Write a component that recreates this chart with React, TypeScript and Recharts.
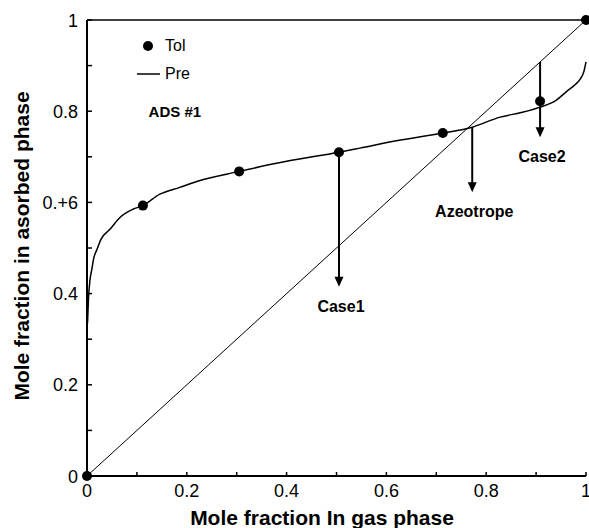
import React from 'react';
import {
  ComposedChart,
  XAxis,
  YAxis,
  Line,
  Scatter,
  ReferenceLine,
  ReferenceDot,
  Legend,
  Label,
} from 'recharts';

const FONT = '"Liberation Sans", Arial, Helvetica, sans-serif';

// Measured points (Tol)
const tolX = [0, 0.112, 0.305, 0.505, 0.713, 0.908, 1];
const tolY = [0, 0.593, 0.668, 0.71, 0.752, 0.822, 1];

// Predicted isotherm (Pre)
const preX = [
  0.001, 0.003, 0.006, 0.01, 0.013, 0.02, 0.028, 0.046, 0.066, 0.092, 0.112,
  0.146, 0.186, 0.22, 0.305, 0.4, 0.505, 0.547, 0.62, 0.713, 0.772, 0.828,
  0.87, 0.908, 0.94, 0.962, 0.978, 0.988, 0.996, 1.0,
];
const preY = [
  0.335, 0.39, 0.43, 0.455, 0.475, 0.497, 0.519, 0.541, 0.567, 0.585, 0.593,
  0.618, 0.633, 0.646, 0.668, 0.69, 0.71, 0.719, 0.735, 0.752, 0.765, 0.787,
  0.797, 0.809, 0.824, 0.844, 0.858, 0.87, 0.888, 0.908,
];

// Axis ticks and their labels
const tickValues = [0, 0.1, 0.2, 0.3, 0.4, 0.5, 0.6, 0.7, 0.8, 0.9, 1];
const xLabels = ['0', '', '0.2', '', '0.4', '', '0.6', '', '0.8', '', '1'];
const yLabels = ['0', '', '0.2', '', '0.4', '', '0.+6', '', '0.8', '', '1'];

// Vertical arrows: name, x position, start and end heights
const arrowNames = ['Case1', 'Azeotrope', 'Case2'];
const arrowX = [0.505, 0.772, 0.908];
const arrowFrom = [0.71, 0.765, 0.908];
const arrowTo = [0.415, 0.622, 0.743];

const tolData = tolX.map((x, i) => ({ x, y: tolY[i] }));
const preData = preX.map((x, i) => ({ x, y: preY[i] }));

const XTick = (props: any) => {
  const { x, y, index } = props;
  const label = xLabels[index];
  return (
    <g>
      <line x1={x} y1={y} x2={x} y2={y - 4} stroke="#000" strokeWidth={1.5} />
      {label ? (
        <text x={x} y={y + 21} textAnchor="middle" fontFamily={FONT} fontSize={18} fill="#000">
          {label}
        </text>
      ) : null}
    </g>
  );
};

const YTick = (props: any) => {
  const { x, y, index } = props;
  const label = yLabels[index];
  return (
    <g>
      <line x1={x} y1={y} x2={x + 5} y2={y} stroke="#000" strokeWidth={1.5} />
      {label ? (
        <text x={x - 9} y={y + 6.5} textAnchor="end" fontFamily={FONT} fontSize={18} fill="#000">
          {label}
        </text>
      ) : null}
    </g>
  );
};

const Dot = (props: any) => <circle cx={props.cx} cy={props.cy} r={5} fill="#000" />;

const makeArrow = (name: string) => (props: any) => {
  const { x1, y1, x2, y2 } = props;
  const top = Math.min(y1, y2);
  const tip = Math.max(y1, y2);
  const cx = (x1 + x2) / 2;
  return (
    <g>
      <line x1={cx} y1={top} x2={cx} y2={tip - 9} stroke="#000" strokeWidth={2} />
      <polygon points={`${cx - 4.5},${tip - 10} ${cx + 4.5},${tip - 10} ${cx},${tip}`} fill="#000" />
      <text x={cx + 2} y={tip + 25} textAnchor="middle" fontFamily={FONT} fontSize={16} fontWeight="bold" fill="#000">
        {name}
      </text>
    </g>
  );
};

const LegendBox = () => (
  <div style={{ fontFamily: FONT, fontSize: 16, color: '#000', lineHeight: '28px' }}>
    <div style={{ display: 'flex', alignItems: 'center' }}>
      <svg width={30} height={28}>
        <circle cx={13} cy={14} r={5} fill="#000" />
      </svg>
      <span>Tol</span>
    </div>
    <div style={{ display: 'flex', alignItems: 'center' }}>
      <svg width={30} height={28}>
        <line x1={2} y1={14} x2={25} y2={14} stroke="#000" strokeWidth={1.5} />
      </svg>
      <span>Pre</span>
    </div>
  </div>
);

export default function App() {
  return (
    <div style={{ position: 'absolute', left: 0, top: 0, background: '#fff' }}>
      <ComposedChart
        width={589}
        height={528}
        margin={{ top: 20, right: 3, bottom: 0, left: 27 }}
      >
        <XAxis
          dataKey="x"
          type="number"
          domain={[0, 1]}
          ticks={tickValues}
          tick={<XTick />}
          tickLine={false}
          tickSize={0}
          tickMargin={0}
          height={52}
          interval={0}
          axisLine={{ stroke: '#000', strokeWidth: 2 }}
        >
          <Label
            content={() => (
              <text x={322} y={525} textAnchor="middle" fontFamily={FONT} fontSize={21} fontWeight="bold" fill="#000">
                Mole fraction In gas phase
              </text>
            )}
          />
        </XAxis>
        <YAxis
          dataKey="y"
          type="number"
          domain={[0, 1]}
          ticks={tickValues}
          tick={<YTick />}
          tickLine={false}
          tickSize={0}
          tickMargin={0}
          width={60}
          interval={0}
          axisLine={{ stroke: '#000', strokeWidth: 2 }}
        >
          <Label
            content={() => (
              <text
                x={29}
                y={246}
                transform="rotate(-90 29 246)"
                textAnchor="middle"
                fontFamily={FONT}
                fontSize={21}
                fontWeight="bold"
                fill="#000"
              >
                Mole fraction in asorbed phase
              </text>
            )}
          />
        </YAxis>
        <Legend
          layout="vertical"
          align="center"
          verticalAlign="middle"
          content={<LegendBox />}
          wrapperStyle={{ left: 135, top: 32, width: 70 }}
        />
        <ReferenceLine y={1} stroke="#000" strokeWidth={1.5} />
        <ReferenceLine
          segment={[{ x: 0, y: 0 }, { x: 1, y: 1 }]}
          stroke="#000"
          strokeWidth={1}
        />
        <Line
          name="Pre"
          data={preData}
          dataKey="y"
          type="monotone"
          stroke="#000"
          strokeWidth={1.5}
          dot={false}
          isAnimationActive={false}
        />
        <Scatter
          name="Tol"
          data={tolData}
          dataKey="y"
          fill="#000"
          shape={<Dot />}
          isAnimationActive={false}
        />
        {arrowNames.map((name, i) => (
          <ReferenceLine
            key={name}
            segment={[
              { x: arrowX[i], y: arrowFrom[i] },
              { x: arrowX[i], y: arrowTo[i] },
            ]}
            shape={makeArrow(name)}
          />
        ))}
        <ReferenceDot
          x={0.176}
          y={0.8}
          r={0}
          fill="none"
          stroke="none"
          label={{ value: 'ADS #1', position: 'center', fontFamily: FONT, fontSize: 15, fontWeight: 'bold', fill: '#000' }}
        />
      </ComposedChart>
    </div>
  );
}
